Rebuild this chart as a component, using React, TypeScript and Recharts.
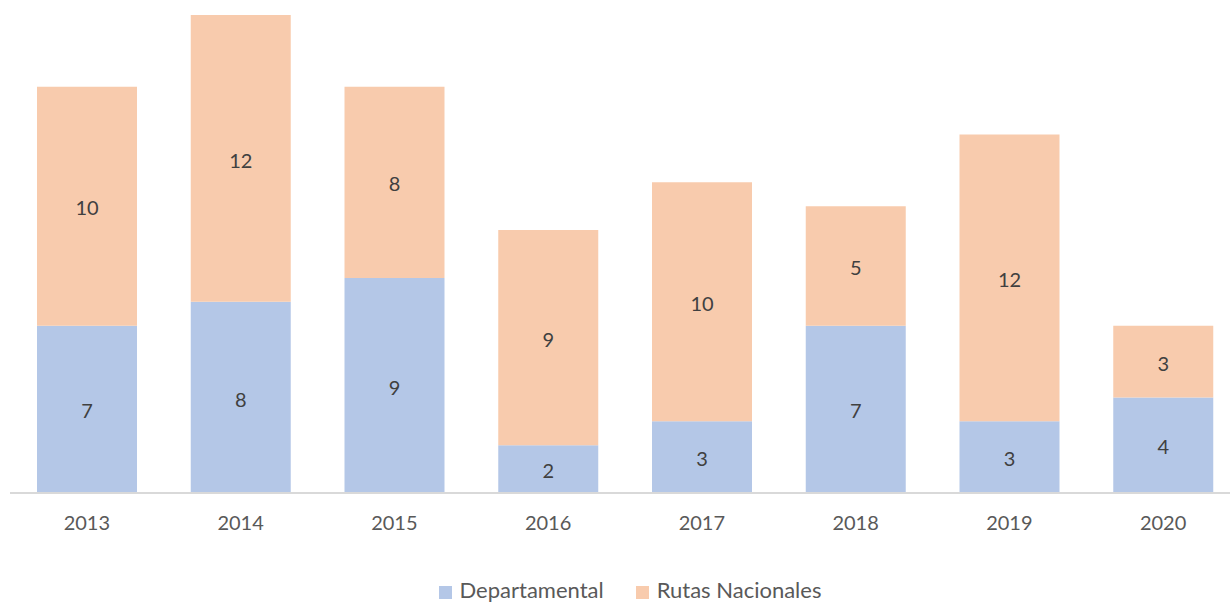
import { BarChart, Bar, XAxis, YAxis, Legend, LabelList } from 'recharts';

const years = ['2013', '2014', '2015', '2016', '2017', '2018', '2019', '2020'];
const departamental = [7, 8, 9, 2, 3, 7, 3, 4];
const rutasNacionales = [10, 12, 8, 9, 10, 5, 12, 3];

const data = years.map((year, i) => ({
  year,
  departamental: departamental[i],
  rutas: rutasNacionales[i],
}));

const FONT = 'Lato, "Open Sans", sans-serif';

export default function App() {
  return (
    <div style={{ position: 'absolute', left: 0, top: 0, width: 1230, height: 603, overflow: 'hidden', background: '#fff' }}>
      <BarChart
        width={1240}
        height={603}
        data={data}
        margin={{ top: 15, right: 0, left: 10, bottom: 40 }}
        barSize={100}
      >
        <XAxis
          dataKey="year"
          axisLine={{ stroke: '#d9d9d9', strokeWidth: 2 }}
          tickLine={false}
          height={40}
          tickMargin={17}
          tick={{ fill: '#595959', fontSize: 20, fontFamily: FONT }}
        />
        <YAxis hide domain={[0, 20]} />
        <Legend
          verticalAlign="bottom"
          height={30}
          iconType="square"
          iconSize={13}
          wrapperStyle={{ fontFamily: FONT, fontSize: 22, top: 576, bottom: 'auto', left: 31 }}
          formatter={(value) => <span style={{ color: '#595959', marginLeft: 4, marginRight: 22 }}>{value}</span>}
        />
        <Bar dataKey="departamental" name="Departamental" stackId="a" fill="#B4C7E7" isAnimationActive={false}>
          <LabelList dataKey="departamental" position="center" fill="#404040" fontSize={20} fontFamily={FONT} dy={2} />
        </Bar>
        <Bar dataKey="rutas" name="Rutas Nacionales" stackId="a" fill="#F8CBAD" isAnimationActive={false}>
          <LabelList dataKey="rutas" position="center" fill="#404040" fontSize={20} fontFamily={FONT} dy={2} />
        </Bar>
      </BarChart>
    </div>
  );
}
